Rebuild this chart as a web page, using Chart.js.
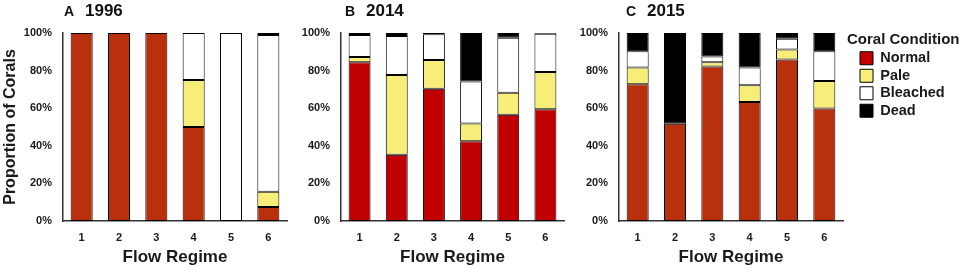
<!DOCTYPE html>
<html>
<head>
<meta charset="utf-8">
<script src="https://cdn.jsdelivr.net/npm/chart.js@4/dist/chart.umd.min.js"></script>
<style>
  html, body { margin: 0; padding: 0; background: #fff; }
  body { width: 964px; height: 270px; position: relative; overflow: hidden; font-family: "Liberation Sans", Arial, sans-serif; }
  .panel { position: absolute; top: 0; }
  .ttl { position: absolute; top: 1px; line-height: 20px; font-weight: bold; color: #111; white-space: nowrap; }
  .ttl .l { display: inline-block; width: 21px; font-size: 14px; }
  .ttl .y { font-size: 17px; }
  .lgt { position: absolute; left: 847px; top: 29px; line-height: 20px; font-size: 15px; font-weight: bold; color: #1a1a1a; white-space: nowrap; }
</style>
</head>
<body>
<div class="panel" style="left:0px"><canvas id="cA" width="290" height="270"></canvas></div>
<div class="panel" style="left:290px"><canvas id="cB" width="276" height="270"></canvas></div>
<div class="panel" style="left:566px"><canvas id="cC" width="398" height="270"></canvas></div>
<div class="ttl" style="left:64px"><span class="l">A</span><span class="y">1996</span></div>
<div class="ttl" style="left:345px"><span class="l">B</span><span class="y">2014</span></div>
<div class="ttl" style="left:626px"><span class="l">C</span><span class="y">2015</span></div>
<div class="lgt">Coral Condition</div>
<script>
// ---- data ----
const categories = ['1', '2', '3', '4', '5', '6'];
const seriesNames = ['Normal', 'Pale', 'Bleached', 'Dead'];
const yTickValues = [0, 20, 40, 60, 80, 100];

const normal1996   = [100, 100, 100, 50, 0, 7.5];
const pale1996     = [0, 0, 0, 25, 0, 8];
const bleached1996 = [0, 0, 0, 25, 100, 83.5];
const dead1996     = [0, 0, 0, 0, 0, 1];

const normal2014   = [84.5, 35.3, 70.3, 42.4, 56.5, 59.4];
const pale2014     = [2.8, 42.4, 15.4, 9.5, 11.7, 19.9];
const bleached2014 = [11.7, 20.7, 13.6, 22.3, 29.3, 20.3];
const dead2014     = [1.0, 1.6, 0.7, 25.8, 2.5, 0.4];

const normal2015   = [72.8, 51.7, 82.2, 63.3, 85.9, 59.9];
const pale2015     = [8.9, 0, 2.3, 8.9, 5.3, 14.6];
const bleached2015 = [8.6, 0, 3.0, 9.5, 5.8, 15.8];
const dead2015     = [9.7, 48.3, 12.5, 18.3, 3.0, 9.7];

// ---- styles ----
const FONT = '"Liberation Sans", Arial, sans-serif';
const TXT = '#1a1a1a';
const legendColors = ['#C00000', '#F7EE7A', '#FFFFFF', '#000000'];

function datasets(values, normalColor) {
  const colors = [normalColor, '#F7EE7A', '#FFFFFF', '#000000'];
  return values.map((v, i) => ({
    label: seriesNames[i],
    data: v,
    backgroundColor: colors[i],
    borderColor: '#000',
    borderWidth: 1,
    borderSkipped: false,
    barPercentage: 0.59,
    categoryPercentage: 1.0
  }));
}

function makeChart(id, values, normalColor, cfg) {
  const scales = {
    x: {
      type: 'category',
      stacked: true,
      offset: true,
      grid: { display: false, drawTicks: false },
      border: { display: true, color: '#333', width: 1.5 },
      ticks: { color: TXT, font: { family: FONT, size: 11, weight: 'bold' }, padding: 10 },
      title: { display: true, text: 'Flow Regime', color: TXT, font: { family: FONT, size: 17, weight: 'bold' }, padding: { top: 0, bottom: 2 } },
      afterFit: s => { s.height = 49; }
    },
    y: {
      stacked: true,
      min: 0, max: 100,
      grid: { display: false, drawTicks: false },
      border: { display: true, color: '#333', width: 1.5 },
      afterBuildTicks: s => { s.ticks = yTickValues.map(v => ({ value: v })); },
      ticks: { color: TXT, font: { family: FONT, size: 11, weight: 'bold' }, padding: 11, callback: v => v + '%' },
      title: { display: !!cfg.yTitle, text: 'Proportion of Corals', color: TXT, font: { family: FONT, size: 16, weight: 'bold' }, padding: { top: 1, bottom: 0 } },
      afterFit: s => { s.width = cfg.yWidth; }
    }
  };
  if (cfg.legend) {
    scales.pad = {
      type: 'linear', position: 'right', display: true,
      grid: { display: false, drawTicks: false }, border: { display: false },
      ticks: { display: false },
      afterFit: s => { s.width = 14; }
    };
  }
  return new Chart(document.getElementById(id), {
    type: 'bar',
    data: { labels: categories, datasets: datasets(values, normalColor) },
    options: {
      responsive: false,
      animation: false,
      events: [],
      layout: { padding: { top: 33, right: cfg.padRight, bottom: 0, left: 0 } },
      scales: scales,
      plugins: {
        tooltip: { enabled: false },
        title: { display: false },
        legend: cfg.legend ? {
          display: true,
          position: 'right',
          align: 'start',
          maxWidth: 94,
          title: { display: true, text: '', font: { family: FONT, size: 15, weight: 'bold', lineHeight: 1.0 }, padding: 0 },
          labels: {
            boxWidth: 13, boxHeight: 13, padding: 3,
            color: TXT,
            font: { family: FONT, size: 14.5, weight: 'bold' },
            generateLabels: () => seriesNames.map((n, i) => ({
              text: n, fillStyle: legendColors[i], strokeStyle: '#000', lineWidth: 1,
              fontColor: TXT, hidden: false, datasetIndex: i
            }))
          }
        } : { display: false }
      }
    }
  });
}

makeChart('cA', [normal1996, pale1996, bleached1996, dead1996], '#B8300C', { yTitle: true, yWidth: 63, padRight: 3 });
makeChart('cB', [normal2014, pale2014, bleached2014, dead2014], '#C00000', { yTitle: false, yWidth: 51, padRight: 2 });
makeChart('cC', [normal2015, pale2015, bleached2015, dead2015], '#B8300C', { yTitle: false, yWidth: 53, padRight: 13, legend: true });
</script>
</body>
</html>
